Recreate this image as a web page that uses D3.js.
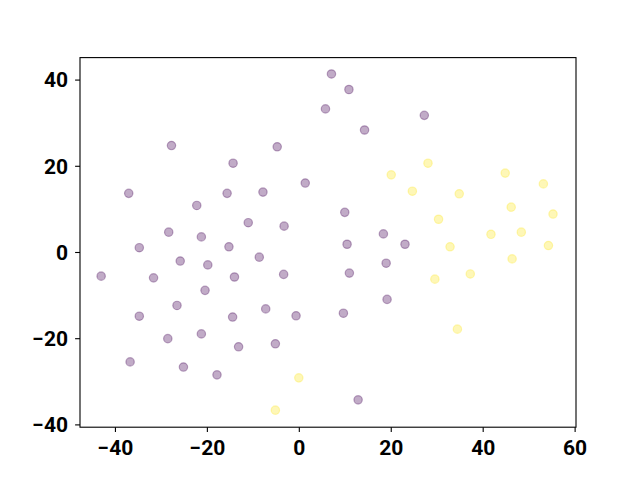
<!DOCTYPE html>
<html><head><meta charset="utf-8">
<script src="https://cdn.jsdelivr.net/npm/d3@7"></script>
<style>body{margin:0;background:#fff}svg{display:block}</style>
</head><body>
<svg id="c" width="640" height="480"></svg>
<script>
const purpleX = [7.1,10.9,5.8,27.3,14.3,-27.7,-4.7,-14.3,-37.0,-15.6,-7.8,1.4,-22.2,-11.0,-3.2,-28.3,-21.2,-34.7,-15.2,10.0,18.4,10.5,23.1,-8.6,-25.8,-19.8,-3.3,-43.0,-31.6,-14.0,-20.4,-26.5,-7.2,-34.7,-14.4,-0.6,-28.5,-21.2,-13.1,-5.1,-36.7,-25.1,-17.8,19.0,11.0,19.2,9.7,12.9];
const purpleY = [41.3,37.7,33.2,31.7,28.3,24.7,24.4,20.6,13.6,13.6,13.9,16.0,10.8,6.8,6.0,4.6,3.5,1.0,1.2,9.2,4.2,1.8,1.8,-1.2,-2.1,-3.0,-5.2,-5.6,-6.0,-5.8,-8.9,-12.4,-13.2,-14.9,-15.1,-14.8,-20.1,-19.0,-22.0,-21.3,-25.5,-26.7,-28.5,-2.6,-4.9,-11.0,-14.2,-34.3];
const yellowX = [28.1,44.9,20.1,53.2,24.7,34.9,46.2,55.3,30.4,41.8,48.4,32.9,54.3,46.4,29.6,37.3,34.5,0.0,-5.1];
const yellowY = [20.6,18.3,17.9,15.8,14.1,13.5,10.4,8.8,7.6,4.1,4.6,1.2,1.5,-1.6,-6.3,-5.1,-17.9,-29.2,-36.7];
const xTicks = [-40,-20,0,20,40,60];
const yTicks = [-40,-20,0,20,40];
const classColors = ["#440154","#fde725"];

const svg = d3.select("#c");
const L=80,R=576,T=57.6,B=427.2;
const x = d3.scaleLinear().domain([-47.6,60.3]).range([L,R]);
const y = d3.scaleLinear().domain([-40.65,45.1]).range([B,T]);

const pts = purpleX.map((v,i)=>({x:v,y:purpleY[i],c:0}))
  .concat(yellowX.map((v,i)=>({x:v,y:yellowY[i],c:1})));

svg.append("g").selectAll("circle").data(pts).join("circle")
  .attr("cx",d=>x(d.x)).attr("cy",d=>y(d.y)).attr("r",4.2)
  .attr("fill",d=>classColors[d.c]).attr("fill-opacity",0.33)
  .attr("stroke",d=>classColors[d.c]).attr("stroke-opacity",0.33).attr("stroke-width",1.2);

const fmt = d => d<0 ? "\u2212"+Math.abs(d) : String(d);
const gx = svg.append("g").attr("transform",`translate(0,${B})`)
  .call(d3.axisBottom(x).tickValues(xTicks).tickFormat(fmt).tickSize(4.9).tickPadding(8));
const gy = svg.append("g").attr("transform",`translate(${L},0)`)
  .call(d3.axisLeft(y).tickValues(yTicks).tickFormat(fmt).tickSize(4.9).tickPadding(7));
[gx,gy].forEach(g=>{
  g.select(".domain").remove();
  g.selectAll("line").attr("stroke","#000").attr("stroke-width",1.1);
  g.selectAll("text").attr("fill","#000").style("font-family","Roboto, 'DejaVu Sans', sans-serif")
    .style("font-weight","bold").style("font-size","21px");
});
gy.selectAll("text").attr("dy","0.35em");
svg.append("rect").attr("x",L).attr("y",T).attr("width",R-L).attr("height",B-T)
  .attr("fill","none").attr("stroke","#000").attr("stroke-width",1.1);
</script>
</body></html>
